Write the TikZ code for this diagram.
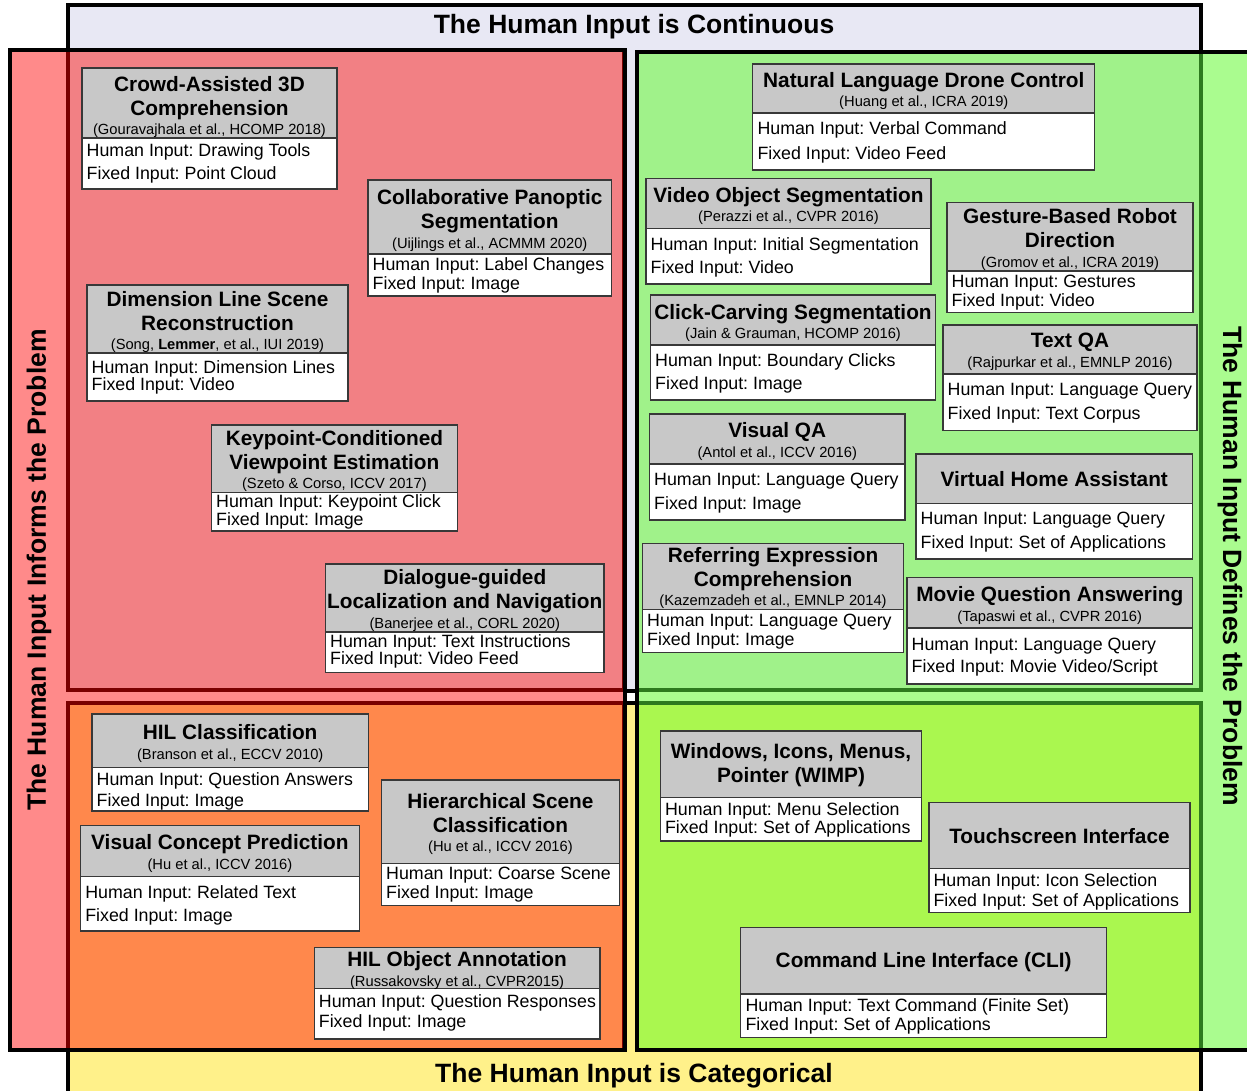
\documentclass[tikz,border=0pt]{standalone}
\usepackage{fontspec}
\setmainfont{Liberation Sans}
\usetikzlibrary{fit}
\frenchspacing
\definecolor{lav}{HTML}{E8E8F4}
\definecolor{yel}{HTML}{FFF18A}
\definecolor{redstrip}{HTML}{FF8A8A}
\definecolor{tlfill}{HTML}{F28084}
\definecolor{blfill}{HTML}{FF884C}
\definecolor{greenstrip}{HTML}{AAFC8F}
\definecolor{trfill}{HTML}{A0F28A}
\definecolor{brfill}{HTML}{AAF74F}
\definecolor{darkred}{HTML}{7A0000}
\definecolor{darkgreen}{HTML}{2D7A1E}
\definecolor{hdrfill}{HTML}{C8C8C8}
\definecolor{boxgray}{HTML}{383838}
\newcommand\citefont{\fontsize{14.7}{17}\selectfont\mdseries\frenchspacing}
\newcommand\cit[1]{\\[-4.5pt]{\citefont #1}}
\def\ProbGeo#1/#2/#3/#4/#5/#6/#7/#8\relax{\def\gxa{#1}\def\gya{#2}\def\gxb{#3}\def\gyh{#4}\def\gyb{#5}\def\gty{#6}\def\gby{#7}\def\gbs{#8}}
\newcommand\probbox[5]{\ProbGeo#2\relax
  \node[hdrbox, fit={(\gxa,\gya) (\gxb,\gyh)}] (#1h) {};
  \node[bodybox, fit={(\gxa,\gyh) (\gxb,\gyb)}] (#1) {};
  \node[titletext] (#1t) at ({(\gxa+\gxb)/2},\gty) {#3};
  \node[bodytext, font=\fontsize{17.8}{\gbs}\selectfont\frenchspacing] (#1b) at ({\gxa+4.5},{\gby+1.5}) {#4\\#5};
}
\tikzset{
  hdrbox/.style={draw=boxgray, line width=1.3pt, fill=hdrfill, inner sep=0pt},
  bodybox/.style={draw=boxgray, line width=1.3pt, fill=white, inner sep=0pt},
  titletext/.style={align=center, inner sep=0pt, font=\fontsize{20.8}{24}\selectfont\bfseries\frenchspacing},
  bodytext/.style={align=left, inner sep=0pt, anchor=west},
  bigline/.style={draw=black, line width=4pt},
  sidetext/.style={inner sep=0pt, font=\fontsize{26.5}{30}\selectfont\bfseries},
}
\begin{document}
\begin{tikzpicture}[x=1pt, y=-1pt]
\useasboundingbox (0,0) rectangle (1247,1090);
\clip (0,0) rectangle (1247,1090);
\fill[white] (0,0) rectangle (1247,1090);
% category regions
\filldraw[fill=lav, bigline] (68,5) rectangle (1201,691);
\filldraw[fill=yel, bigline] (68,703) rectangle (1201,1100);
\fill[redstrip] (10,50) rectangle (625,1050);
\fill[greenstrip] (637,52) rectangle (1260,1050);
% quadrants
\filldraw[fill=tlfill, draw=darkred, line width=4pt] (68,50) rectangle (624,690);
\filldraw[fill=blfill, draw=darkred, line width=4pt] (68,703) rectangle (624,1050);
\filldraw[fill=trfill, draw=darkgreen, line width=4pt] (637,52) rectangle (1201,690);
\filldraw[fill=brfill, draw=darkgreen, line width=4pt] (637,703) rectangle (1201,1050);
\draw[bigline] (10,50) rectangle (625,1050);
\draw[bigline] (637,52) rectangle (1260,1050);
% labels
\node[sidetext] (continuous) at (634,27) {The Human Input is Continuous};
\node[sidetext] (categorical) at (634,1076) {The Human Input is Categorical};
\node[sidetext, rotate=90] (informs) at (39,570) {The Human Input Informs the Problem};
\node[sidetext, rotate=-90] (defines) at (1230,566) {The Human Input Defines the Problem};
% boxes: top left
\probbox{crowd}{82/68/337/138/189/107/162/23.3}{Crowd-Assisted 3D\\Comprehension\cit{(Gouravajhala et al., HCOMP 2018)}}{Human Input: Drawing Tools}{Fixed Input: Point Cloud}
\probbox{panoptic}{368/180/611.5/254/296/220.5/273.5/19}{Collaborative Panoptic\\Segmentation\cit{(Uijlings et al., ACMMM 2020)}}{Human Input: Label Changes}{Fixed Input: Image}
\probbox{dimline}{87/285/348/353/401/322/375.7/17}{Dimension Line Scene\\Reconstruction\cit{(Song, \textbf{Lemmer}, et al., IUI 2019)}}{Human Input: Dimension Lines}{Fixed Input: Video}
\probbox{keypoint}{211.5/425/457.3/492.5/531/461/510.5/17.6}{Keypoint-Conditioned\\Viewpoint Estimation\cit{(Szeto \& Corso, ICCV 2017)}}{Human Input: Keypoint Click}{Fixed Input: Image}
\probbox{dialogue}{325.5/564/604/632/672.7/600.3/650/17}{Dialogue-guided\\Localization and Navigation\cit{(Banerjee et al., CORL 2020)}}{Human Input: Text Instructions}{Fixed Input: Video Feed}
% top right
\probbox{drone}{752.8/64/1094.8/113/170/90.8/140.8/25}{Natural Language Drone Control\cit{(Huang et al., ICRA 2019)}}{Human Input: Verbal Command}{Fixed Input: Video Feed}
\probbox{vos}{646/178.5/931/228.5/284/206/255.5/23}{Video Object Segmentation\cit{(Perazzi et al., CVPR 2016)}}{Human Input: Initial Segmentation}{Fixed Input: Video}
\probbox{gesture}{947/202.5/1193/271/312.5/239.5/291.2/19}{Gesture-Based Robot\\Direction\cit{(Gromov et al., ICRA 2019)}}{Human Input: Gestures}{Fixed Input: Video}
\probbox{click}{650.5/295/935.5/345/400/322.8/371.7/23.3}{Click-Carving Segmentation\cit{(Jain \& Grauman, HCOMP 2016)}}{Human Input: Boundary Clicks}{Fixed Input: Image}
\probbox{textqa}{943/325/1197/374/430.5/352/402/24}{Text QA\cit{(Rajpurkar et al., EMNLP 2016)}}{Human Input: Language Query}{Fixed Input: Text Corpus}
\probbox{vqa}{649.5/414/905/464/520/441.5/492/24}{Visual QA\cit{(Antol et al., ICCV 2016)}}{Human Input: Language Query}{Fixed Input: Image}
\probbox{vha}{916/454/1192.5/503.5/559/479/530.8/23.7}{Virtual Home Assistant}{Human Input: Language Query}{Fixed Input: Set of Applications}
\probbox{refexp}{642.5/543.3/903.6/609.5/652.7/578.2/630.3/19.3}{Referring Expression\\Comprehension\cit{(Kazemzadeh et al., EMNLP 2014)}}{Human Input: Language Query}{Fixed Input: Image}
\probbox{movieqa}{907/577.7/1192.5/628/684/605.5/655.5/22.4}{Movie Question Answering\cit{(Tapaswi et al., CVPR 2016)}}{Human Input: Language Query}{Fixed Input: Movie Video/Script}
% bottom left
\probbox{hilcls}{92/714/368.4/767.5/811/743.7/789.8/21.7}{HIL Classification\cit{(Branson et al., ECCV 2010)}}{Human Input: Question Answers}{Fixed Input: Image}
\probbox{vcp}{80.6/825.7/359.2/876.7/931/853.7/903.7/22.7}{Visual Concept Prediction\cit{(Hu et al., ICCV 2016)}}{Human Input: Related Text}{Fixed Input: Image}
\probbox{hier}{381.5/780/619.4/863.3/905.7/823.8/883.2/18.3}{Hierarchical Scene\\Classification\cit{(Hu et al., ICCV 2016)}}{Human Input: Coarse Scene}{Fixed Input: Image}
\probbox{hilobj}{314.2/947.3/600/988.3/1039/970.5/1011.3/20.7}{HIL Object Annotation\cit{(Russakovsky et al., CVPR2015)}}{Human Input: Question Responses}{Fixed Input: Image}
% bottom right
\probbox{wimp}{660.4/731/921.7/797.3/841/765/818.3/18.7}{Windows, Icons, Menus,\\Pointer (WIMP)}{Human Input: Menu Selection}{Fixed Input: Set of Applications}
\probbox{touch}{928.9/802.7/1190/868.3/912.3/836/890/20}{Touchscreen Interface}{Human Input: Icon Selection}{Fixed Input: Set of Applications}
\probbox{cli}{740.8/927.7/1106.5/994/1037.7/961.7/1014.5/19}{Command Line Interface (CLI)}{Human Input: Text Command (Finite Set)}{Fixed Input: Set of Applications}
\end{tikzpicture}
\end{document}
